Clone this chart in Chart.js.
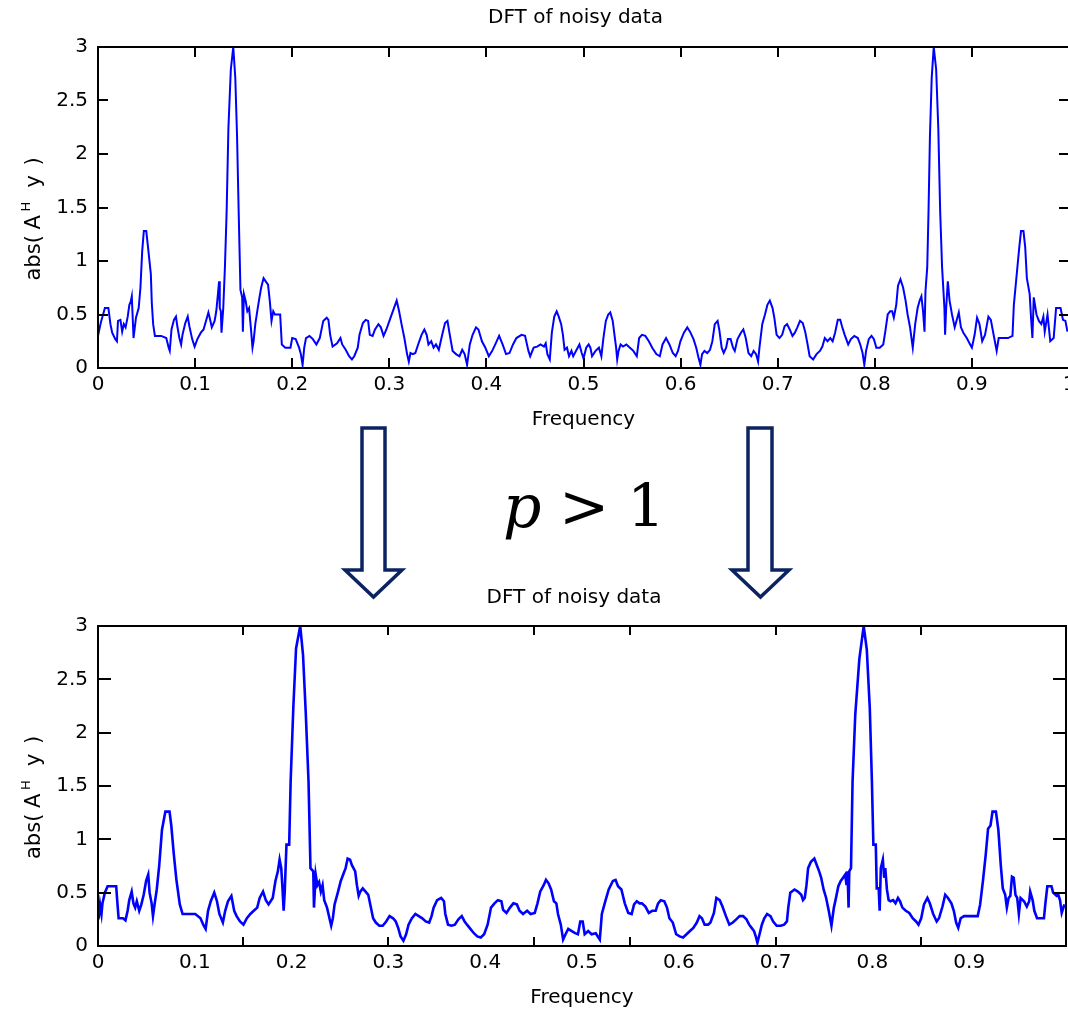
<!DOCTYPE html>
<html>
<head>
<meta charset="utf-8">
<script src="https://cdn.jsdelivr.net/npm/chart.js@4/dist/chart.umd.min.js"></script>
<style>
  html, body { margin: 0; padding: 0; background: #fff; overflow: hidden; }
  #wrap { position: relative; width: 1068px; height: 1011px; overflow: hidden; background: #fff; }
  #wrap canvas { position: absolute; left: 0; }
  #topChart { top: 0; width: 1085px; height: 445px; }
  #bottomChart { top: 580px; width: 1085px; height: 431px; }
  #overlay { position: absolute; left: 0; top: 0; }
</style>
</head>
<body>
<div id="wrap">
  <canvas id="topChart" width="1085" height="445"></canvas>
  <canvas id="bottomChart" width="1085" height="431"></canvas>
  <svg id="overlay" width="1068" height="1011" xmlns="http://www.w3.org/2000/svg">
    <g fill="#fff" stroke="#0b2461" stroke-width="3.5" stroke-linejoin="miter">
      <polygon points="362,428 385,428 385,570 402,570 373.5,597 345,570 362,570"/>
      <polygon points="748,428 772,428 772,570 789,570 760.5,597 732,570 748,570"/>
    </g>
    <text y="527" font-family="DejaVu Serif" font-size="60" fill="#000">
      <tspan x="503" font-style="italic">p</tspan><tspan x="559">&gt;</tspan><tspan x="627">1</tspan>
    </text>
  </svg>
</div>
<script>
// Spectrum of the original noisy signal: |A^H y| against normalised frequency
const topFreq = [
  0, 0.0028, 0.0071, 0.0107, 0.0128, 0.0146, 0.0178, 0.0195, 0.0206, 0.0231,
  0.0249, 0.0266, 0.0284, 0.0306, 0.0323, 0.0337, 0.0348, 0.0366, 0.0391, 0.0419,
  0.0437, 0.0455, 0.0472, 0.0497, 0.0515, 0.0544, 0.0554, 0.0568, 0.0586, 0.0650,
  0.0703, 0.0728, 0.0739, 0.0757, 0.0782, 0.0803, 0.0817, 0.0838, 0.0856, 0.0870,
  0.0899, 0.0924, 0.0941, 0.0970, 0.0995, 0.1023, 0.1059, 0.1087, 0.1112, 0.1137,
  0.1158, 0.1172, 0.1201, 0.1218, 0.1236, 0.1247, 0.1254, 0.1265, 0.1272, 0.1290,
  0.1307, 0.1325, 0.1343, 0.1368, 0.1393, 0.1414, 0.1432, 0.1449, 0.1467, 0.1485,
  0.1492, 0.1503, 0.1520, 0.1538, 0.1556, 0.1574, 0.1591, 0.1602, 0.1620, 0.1645,
  0.1663, 0.1680, 0.1705, 0.1734, 0.1751, 0.1769, 0.1787, 0.1805, 0.1822, 0.1876,
  0.1893, 0.1929, 0.1982, 0.2000, 0.2036, 0.2071, 0.2089, 0.2107, 0.2124, 0.2142,
  0.2178, 0.2213, 0.2249, 0.2284, 0.2320, 0.2355, 0.2373, 0.2391, 0.2416, 0.2462,
  0.2497, 0.2515, 0.2551, 0.2586, 0.2615, 0.2639, 0.2675, 0.2693, 0.2728, 0.2757,
  0.2782, 0.2799, 0.2828, 0.2853, 0.2888, 0.2913, 0.2941, 0.2970, 0.3005, 0.3048,
  0.3076, 0.3101, 0.3126, 0.3155, 0.3183, 0.3201, 0.3218, 0.3243, 0.3268, 0.3297,
  0.3332, 0.3361, 0.3385, 0.3403, 0.3432, 0.3456, 0.3481, 0.3510, 0.3545, 0.3574,
  0.3599, 0.3623, 0.3652, 0.3687, 0.3723, 0.3751, 0.3776, 0.3801, 0.3829, 0.3858,
  0.3893, 0.3918, 0.3954, 0.3989, 0.4025, 0.4060, 0.4096, 0.4131, 0.4167, 0.4202,
  0.4238, 0.4274, 0.4309, 0.4362, 0.4398, 0.4433, 0.4451, 0.4487, 0.4522, 0.4558,
  0.4593, 0.4611, 0.4628, 0.4653, 0.4674, 0.4699, 0.4724, 0.4745, 0.4770, 0.4788,
  0.4805, 0.4830, 0.4851, 0.4876, 0.4894, 0.4929, 0.4958, 0.4982, 0.5000, 0.5028,
  0.5053, 0.5071, 0.5088, 0.5124, 0.5159, 0.5184, 0.5205, 0.5230, 0.5255, 0.5276,
  0.5301, 0.5319, 0.5336, 0.5347, 0.5361, 0.5382, 0.5407, 0.5442, 0.5478, 0.5513,
  0.5549, 0.5573, 0.5602, 0.5637, 0.5673, 0.5708, 0.5750, 0.5786, 0.5814, 0.5850,
  0.5885, 0.5920, 0.5949, 0.5973, 0.5998, 0.6034, 0.6069, 0.6097, 0.6133, 0.6161,
  0.6186, 0.6204, 0.6221, 0.6246, 0.6274, 0.6303, 0.6327, 0.6352, 0.6381, 0.6398,
  0.6423, 0.6444, 0.6469, 0.6487, 0.6515, 0.6540, 0.6558, 0.6586, 0.6621, 0.6646,
  0.6671, 0.6699, 0.6727, 0.6752, 0.6777, 0.6798, 0.6812, 0.6841, 0.6869, 0.6894,
  0.6919, 0.6947, 0.6965, 0.6989, 0.7018, 0.7046, 0.7071, 0.7096, 0.7124, 0.7152,
  0.7177, 0.7202, 0.7230, 0.7258, 0.7283, 0.7308, 0.7329, 0.7365, 0.7400, 0.7435,
  0.7460, 0.7485, 0.7513, 0.7542, 0.7566, 0.7591, 0.7619, 0.7644, 0.7662, 0.7690,
  0.7726, 0.7754, 0.7789, 0.7825, 0.7850, 0.7874, 0.7892, 0.7910, 0.7938, 0.7966,
  0.7991, 0.8016, 0.8051, 0.8087, 0.8108, 0.8133, 0.8158, 0.8179, 0.8196, 0.8221,
  0.8239, 0.8264, 0.8292, 0.8317, 0.8338, 0.8363, 0.8391, 0.8416, 0.8441, 0.8462,
  0.8480, 0.8497, 0.8512, 0.8522, 0.8540, 0.8553, 0.8568, 0.8586, 0.8607, 0.8632,
  0.8654, 0.8673, 0.8693, 0.8717, 0.8724, 0.8735, 0.8752, 0.8770, 0.8795, 0.8823,
  0.8841, 0.8865, 0.8887, 0.8912, 0.8947, 0.8982, 0.9000, 0.9028, 0.9053, 0.9078,
  0.9106, 0.9135, 0.9170, 0.9195, 0.9230, 0.9255, 0.9276, 0.9319, 0.9372, 0.9418,
  0.9432, 0.9460, 0.9488, 0.9506, 0.9531, 0.9549, 0.9566, 0.9595, 0.9609, 0.9623,
  0.9637, 0.9665, 0.9690, 0.9715, 0.9736, 0.9750, 0.9779, 0.9807, 0.9842, 0.9867,
  0.9913, 0.9938, 0.9963, 0.9984
];
const topMag = [
  0.30, 0.42, 0.56, 0.56, 0.41, 0.33, 0.27, 0.25, 0.44, 0.45,
  0.34, 0.41, 0.38, 0.48, 0.59, 0.62, 0.67, 0.28, 0.47, 0.56,
  0.75, 1.09, 1.28, 1.28, 1.13, 0.88, 0.61, 0.41, 0.30, 0.30,
  0.28, 0.19, 0.16, 0.36, 0.45, 0.48, 0.39, 0.28, 0.22, 0.31,
  0.42, 0.48, 0.39, 0.27, 0.20, 0.27, 0.33, 0.36, 0.44, 0.52,
  0.44, 0.38, 0.44, 0.53, 0.70, 0.81, 0.56, 0.53, 0.33, 0.56,
  0.94, 1.47, 2.24, 2.79, 3.00, 2.71, 2.17, 1.45, 0.73, 0.66,
  0.34, 0.69, 0.63, 0.53, 0.56, 0.38, 0.19, 0.25, 0.41, 0.56,
  0.66, 0.75, 0.84, 0.80, 0.78, 0.63, 0.44, 0.53, 0.50, 0.50,
  0.22, 0.19, 0.19, 0.28, 0.27, 0.19, 0.13, 0.03, 0.19, 0.28,
  0.30, 0.27, 0.22, 0.28, 0.44, 0.47, 0.45, 0.31, 0.20, 0.23,
  0.28, 0.22, 0.17, 0.11, 0.08, 0.11, 0.19, 0.31, 0.42, 0.45,
  0.44, 0.31, 0.30, 0.36, 0.41, 0.38, 0.30, 0.36, 0.45, 0.56,
  0.63, 0.53, 0.41, 0.28, 0.13, 0.06, 0.14, 0.13, 0.14, 0.22,
  0.31, 0.36, 0.31, 0.22, 0.25, 0.19, 0.22, 0.17, 0.31, 0.42,
  0.44, 0.31, 0.16, 0.13, 0.11, 0.17, 0.13, 0.03, 0.22, 0.31,
  0.38, 0.36, 0.25, 0.19, 0.11, 0.16, 0.23, 0.30, 0.22, 0.13,
  0.14, 0.22, 0.28, 0.31, 0.30, 0.16, 0.11, 0.19, 0.20, 0.22,
  0.20, 0.23, 0.13, 0.08, 0.33, 0.48, 0.53, 0.48, 0.41, 0.31,
  0.17, 0.19, 0.11, 0.16, 0.11, 0.17, 0.22, 0.14, 0.09, 0.19,
  0.22, 0.19, 0.11, 0.16, 0.19, 0.11, 0.28, 0.44, 0.50, 0.52,
  0.44, 0.31, 0.19, 0.08, 0.16, 0.22, 0.20, 0.22, 0.19, 0.16,
  0.11, 0.28, 0.31, 0.30, 0.25, 0.19, 0.13, 0.11, 0.22, 0.28,
  0.22, 0.14, 0.11, 0.16, 0.25, 0.33, 0.38, 0.34, 0.27, 0.19,
  0.09, 0.03, 0.13, 0.16, 0.14, 0.17, 0.25, 0.41, 0.44, 0.36,
  0.19, 0.14, 0.19, 0.27, 0.27, 0.19, 0.16, 0.27, 0.33, 0.36,
  0.28, 0.14, 0.11, 0.16, 0.13, 0.06, 0.19, 0.41, 0.50, 0.59,
  0.63, 0.56, 0.47, 0.31, 0.28, 0.31, 0.39, 0.41, 0.36, 0.30,
  0.33, 0.38, 0.44, 0.42, 0.34, 0.22, 0.11, 0.08, 0.13, 0.16,
  0.20, 0.28, 0.25, 0.28, 0.25, 0.33, 0.45, 0.45, 0.39, 0.31,
  0.22, 0.27, 0.30, 0.28, 0.22, 0.14, 0.03, 0.16, 0.27, 0.30,
  0.27, 0.19, 0.19, 0.22, 0.34, 0.50, 0.53, 0.53, 0.47, 0.59,
  0.77, 0.83, 0.75, 0.63, 0.50, 0.38, 0.19, 0.41, 0.56, 0.63,
  0.67, 0.53, 0.34, 0.72, 0.94, 1.45, 2.17, 2.71, 3.00, 2.79,
  2.24, 1.47, 0.94, 0.56, 0.31, 0.56, 0.81, 0.63, 0.50, 0.38,
  0.44, 0.52, 0.38, 0.33, 0.28, 0.22, 0.19, 0.31, 0.47, 0.41,
  0.25, 0.31, 0.48, 0.45, 0.28, 0.16, 0.28, 0.28, 0.28, 0.30,
  0.59, 0.86, 1.13, 1.28, 1.28, 1.13, 0.84, 0.69, 0.47, 0.28,
  0.66, 0.50, 0.44, 0.41, 0.48, 0.34, 0.50, 0.25, 0.28, 0.56,
  0.56, 0.45, 0.44, 0.34
];

// Spectrum after the p > 1 frequency warping
const bottomFreq = [
  0, 0.0011, 0.0021, 0.0036, 0.0046, 0.0071, 0.0099, 0.0188, 0.0199, 0.0213,
  0.0259, 0.0284, 0.0306, 0.0323, 0.0348, 0.0366, 0.0384, 0.0401, 0.0426, 0.0448,
  0.0472, 0.0497, 0.0519, 0.0533, 0.0554, 0.0568, 0.0586, 0.0607, 0.0632, 0.0661,
  0.0696, 0.0739, 0.0757, 0.0782, 0.0810, 0.0845, 0.0874, 0.1005, 0.1059, 0.1087,
  0.1112, 0.1137, 0.1165, 0.1201, 0.1229, 0.1254, 0.1290, 0.1314, 0.1343, 0.1378,
  0.1407, 0.1432, 0.1467, 0.1503, 0.1538, 0.1574, 0.1609, 0.1645, 0.1670, 0.1705,
  0.1734, 0.1762, 0.1805, 0.1833, 0.1858, 0.1876, 0.1893, 0.1904, 0.1918, 0.1929,
  0.1947, 0.1975, 0.1990, 0.2018, 0.2046, 0.2089, 0.2118, 0.2146, 0.2175, 0.2195,
  0.2224, 0.2231, 0.2249, 0.2266, 0.2284, 0.2302, 0.2320, 0.2337, 0.2366, 0.2391,
  0.2409, 0.2426, 0.2444, 0.2480, 0.2508, 0.2533, 0.2558, 0.2579, 0.2604, 0.2622,
  0.2657, 0.2675, 0.2693, 0.2710, 0.2735, 0.2764, 0.2792, 0.2817, 0.2842, 0.2870,
  0.2906, 0.2941, 0.2977, 0.3012, 0.3048, 0.3076, 0.3101, 0.3126, 0.3155, 0.3183,
  0.3208, 0.3243, 0.3279, 0.3314, 0.3350, 0.3385, 0.3421, 0.3446, 0.3467, 0.3503,
  0.3545, 0.3574, 0.3588, 0.3616, 0.3652, 0.3687, 0.3723, 0.3758, 0.3787, 0.3812,
  0.3847, 0.3883, 0.3918, 0.3954, 0.3989, 0.4025, 0.4060, 0.4096, 0.4131, 0.4167,
  0.4185, 0.4220, 0.4256, 0.4291, 0.4327, 0.4355, 0.4391, 0.4433, 0.4469, 0.4512,
  0.4540, 0.4568, 0.4604, 0.4628, 0.4653, 0.4681, 0.4710, 0.4735, 0.4752, 0.4781,
  0.4805, 0.4830, 0.4858, 0.4894, 0.4929, 0.4958, 0.4982, 0.5007, 0.5028, 0.5064,
  0.5099, 0.5142, 0.5170, 0.5184, 0.5205, 0.5241, 0.5276, 0.5319, 0.5347, 0.5372,
  0.5407, 0.5442, 0.5478, 0.5513, 0.5538, 0.5566, 0.5595, 0.5619, 0.5655, 0.5690,
  0.5726, 0.5761, 0.5786, 0.5814, 0.5850, 0.5878, 0.5903, 0.5938, 0.5973, 0.6009,
  0.6044, 0.6080, 0.6115, 0.6150, 0.6186, 0.6214, 0.6239, 0.6267, 0.6303, 0.6327,
  0.6363, 0.6388, 0.6423, 0.6451, 0.6487, 0.6522, 0.6558, 0.6593, 0.6628, 0.6664,
  0.6699, 0.6727, 0.6752, 0.6777, 0.6798, 0.6812, 0.6834, 0.6858, 0.6883, 0.6912,
  0.6947, 0.6975, 0.7011, 0.7053, 0.7088, 0.7117, 0.7131, 0.7152, 0.7195, 0.7230,
  0.7265, 0.7283, 0.7301, 0.7319, 0.7336, 0.7365, 0.7400, 0.7425, 0.7450, 0.7471,
  0.7496, 0.7522, 0.7549, 0.7577, 0.7602, 0.7619, 0.7648, 0.7673, 0.7697, 0.7719,
  0.7733, 0.7743, 0.7754, 0.7761, 0.7779, 0.7795, 0.7823, 0.7865, 0.7910, 0.7942,
  0.7973, 0.7995, 0.8010, 0.8035, 0.8045, 0.8065, 0.8075, 0.8087, 0.8108, 0.8122,
  0.8133, 0.8150, 0.8168, 0.8186, 0.8214, 0.8239, 0.8264, 0.8285, 0.8310, 0.8345,
  0.8381, 0.8416, 0.8451, 0.8476, 0.8504, 0.8533, 0.8568, 0.8593, 0.8628, 0.8664,
  0.8688, 0.8724, 0.8752, 0.8781, 0.8816, 0.8841, 0.8865, 0.8887, 0.8912, 0.8947,
  0.9088, 0.9113, 0.9142, 0.9170, 0.9195, 0.9220, 0.9241, 0.9276, 0.9301, 0.9326,
  0.9347, 0.9372, 0.9389, 0.9407, 0.9425, 0.9442, 0.9460, 0.9478, 0.9496, 0.9513,
  0.9531, 0.9566, 0.9595, 0.9620, 0.9630, 0.9655, 0.9673, 0.9701, 0.9772, 0.9786,
  0.9807, 0.9850, 0.9867, 0.9903, 0.9920, 0.9938, 0.9956, 0.9984
];
const bottomMag = [
  0.33, 0.30, 0.39, 0.30, 0.40, 0.50, 0.56, 0.56, 0.42, 0.26,
  0.26, 0.24, 0.33, 0.43, 0.51, 0.40, 0.36, 0.42, 0.33, 0.39,
  0.48, 0.61, 0.67, 0.50, 0.40, 0.28, 0.40, 0.53, 0.75, 1.09,
  1.26, 1.26, 1.13, 0.87, 0.62, 0.39, 0.30, 0.30, 0.26, 0.20,
  0.16, 0.33, 0.42, 0.50, 0.42, 0.30, 0.22, 0.33, 0.42, 0.47,
  0.33, 0.28, 0.23, 0.20, 0.26, 0.30, 0.33, 0.36, 0.45, 0.51,
  0.43, 0.39, 0.45, 0.61, 0.70, 0.81, 0.73, 0.57, 0.33, 0.51,
  0.95, 0.95, 1.54, 2.24, 2.79, 3.00, 2.73, 2.19, 1.54, 0.73,
  0.70, 0.36, 0.67, 0.57, 0.60, 0.51, 0.57, 0.43, 0.36, 0.26,
  0.19, 0.26, 0.39, 0.51, 0.61, 0.67, 0.73, 0.82, 0.81, 0.76,
  0.70, 0.57, 0.47, 0.51, 0.54, 0.51, 0.48, 0.37, 0.26, 0.22,
  0.19, 0.19, 0.23, 0.28, 0.26, 0.23, 0.17, 0.09, 0.05, 0.11,
  0.20, 0.26, 0.30, 0.28, 0.26, 0.23, 0.22, 0.28, 0.36, 0.43,
  0.45, 0.42, 0.30, 0.20, 0.19, 0.20, 0.25, 0.28, 0.23, 0.20,
  0.16, 0.12, 0.09, 0.08, 0.11, 0.20, 0.36, 0.40, 0.43, 0.42,
  0.34, 0.31, 0.36, 0.40, 0.39, 0.33, 0.30, 0.33, 0.30, 0.31,
  0.40, 0.51, 0.57, 0.62, 0.59, 0.53, 0.42, 0.40, 0.30, 0.20,
  0.06, 0.11, 0.16, 0.14, 0.12, 0.11, 0.23, 0.23, 0.11, 0.14,
  0.11, 0.12, 0.08, 0.06, 0.30, 0.42, 0.53, 0.61, 0.62, 0.56,
  0.53, 0.40, 0.31, 0.30, 0.39, 0.42, 0.40, 0.40, 0.37, 0.31,
  0.33, 0.33, 0.40, 0.43, 0.42, 0.36, 0.26, 0.22, 0.11, 0.09,
  0.08, 0.11, 0.14, 0.17, 0.22, 0.28, 0.26, 0.20, 0.20, 0.22,
  0.31, 0.45, 0.43, 0.37, 0.28, 0.20, 0.22, 0.25, 0.28, 0.28,
  0.25, 0.20, 0.17, 0.14, 0.08, 0.03, 0.11, 0.20, 0.26, 0.30,
  0.28, 0.23, 0.19, 0.19, 0.20, 0.23, 0.36, 0.50, 0.53, 0.51,
  0.48, 0.43, 0.45, 0.57, 0.73, 0.79, 0.82, 0.76, 0.70, 0.64,
  0.53, 0.45, 0.33, 0.19, 0.36, 0.43, 0.56, 0.61, 0.64, 0.67,
  0.57, 0.70, 0.36, 0.70, 0.73, 1.54, 2.17, 2.69, 3.00, 2.78,
  2.23, 1.54, 0.95, 0.95, 0.54, 0.54, 0.33, 0.73, 0.81, 0.64,
  0.73, 0.53, 0.43, 0.42, 0.43, 0.40, 0.45, 0.42, 0.36, 0.33,
  0.31, 0.26, 0.23, 0.20, 0.26, 0.39, 0.45, 0.40, 0.30, 0.23,
  0.26, 0.37, 0.48, 0.45, 0.40, 0.33, 0.22, 0.17, 0.26, 0.28,
  0.28, 0.39, 0.61, 0.85, 1.10, 1.13, 1.26, 1.26, 1.09, 0.76,
  0.54, 0.48, 0.36, 0.45, 0.47, 0.65, 0.64, 0.48, 0.45, 0.30,
  0.45, 0.42, 0.37, 0.42, 0.51, 0.43, 0.33, 0.26, 0.26, 0.39,
  0.56, 0.56, 0.50, 0.47, 0.48, 0.43, 0.31, 0.39
];

// Axis tick labels and inner tick marks
const yTicks = [0, 0.5, 1, 1.5, 2, 2.5, 3];
const xTicksTop = [0, 0.1, 0.2, 0.3, 0.4, 0.5, 0.6, 0.7, 0.8, 0.9, 1];
const xTicksBottom = [0, 0.1, 0.2, 0.3, 0.4, 0.5, 0.6, 0.7, 0.8, 0.9];
const xMarksTop = [0.1, 0.2, 0.3, 0.4, 0.5, 0.6, 0.7, 0.8, 0.9];
const xMarksBottom = [0.15, 0.3, 0.45, 0.55, 0.7, 0.85];

const TITLE = 'DFT of noisy data';
const X_TITLE = 'Frequency';
const FONT = '"DejaVu Sans", "Liberation Sans", Arial, sans-serif';

const fmt = v => String(Math.round(v * 100) / 100);

// Title above the axes, the closed axes box with inward ticks, and the y label with its superscript
const axesBox = {
  id: 'axesBox',
  beforeDraw(chart, args, o) {
    const { ctx, chartArea: a } = chart;
    ctx.save();
    ctx.fillStyle = '#000';
    ctx.font = '20px ' + FONT;
    ctx.textAlign = 'center';
    ctx.textBaseline = 'middle';
    ctx.fillText(o.title, (a.left + a.right) / 2 + o.titleDx, o.titleY);
    ctx.restore();
  },
  afterDatasetsDraw(chart, args, o) {
    const { ctx, chartArea: a } = chart;
    const xs = chart.scales.x, ys = chart.scales.y;
    ctx.save();
    ctx.strokeStyle = '#000';
    ctx.lineWidth = 2;
    ctx.strokeRect(a.left, a.top, a.right - a.left, a.bottom - a.top);
    ctx.beginPath();
    for (const v of o.xMarks) {
      const px = Math.round(xs.getPixelForValue(v));
      ctx.moveTo(px, a.bottom); ctx.lineTo(px, a.bottom - o.xLen);
      ctx.moveTo(px, a.top); ctx.lineTo(px, a.top + o.xLen);
    }
    for (const v of o.yMarks) {
      const py = Math.round(ys.getPixelForValue(v));
      ctx.moveTo(a.left, py); ctx.lineTo(a.left + o.yLen, py);
      ctx.moveTo(a.right, py); ctx.lineTo(a.right - o.yLen, py);
    }
    ctx.stroke();

    // y-axis label: abs( A^H y ), written bottom to top
    ctx.fillStyle = '#000';
    ctx.textBaseline = 'alphabetic';
    ctx.textAlign = 'left';
    const total = 126;
    ctx.translate(o.labelX, (a.top + a.bottom) / 2 + o.labelShift);
    ctx.rotate(-Math.PI / 2);
    const x0 = -total / 2;
    ctx.font = '21px ' + FONT;
    ctx.fillText('abs(', x0, 0);
    ctx.fillText('A', x0 + 51, 0);
    ctx.fillText('y', x0 + 93, 0);
    ctx.fillText(')', x0 + 115, 0);
    ctx.font = '13px ' + FONT;
    ctx.fillText('H', x0 + 69, -10);
    ctx.restore();
  }
};

function makeChart(id, freq, mag, cfg) {
  const points = freq.map((f, i) => ({ x: f, y: mag[i] }));
  return new Chart(document.getElementById(id), {
    type: 'line',
    data: {
      datasets: [{
        data: points,
        borderColor: '#0000ff',
        borderWidth: cfg.lineW,
        pointRadius: 0,
        tension: 0,
        fill: false
      }]
    },
    options: {
      responsive: false,
      animation: false,
      devicePixelRatio: 1,
      layout: { autoPadding: false, padding: { left: 0, top: cfg.plotTop, right: cfg.padRight, bottom: 0 } },
      plugins: {
        legend: { display: false },
        tooltip: { enabled: false },
        title: { display: false },
        axesBox: {
          title: TITLE, titleY: 18, titleDx: -8,
          xMarks: cfg.xMarks, yMarks: yTicks, xLen: cfg.xLen, yLen: cfg.yLen,
          labelX: 40, labelShift: 10
        }
      },
      scales: {
        x: {
          type: 'linear', min: 0, max: 1,
          grid: { display: false, drawTicks: false },
          border: { display: false },
          afterBuildTicks: s => { s.ticks = cfg.xTicks.map(v => ({ value: v })); },
          afterFit: s => { s.height = cfg.xAxisH; },
          ticks: { autoSkip: false, maxRotation: 0, padding: 5, color: '#000',
                   font: { family: FONT, size: 20 }, callback: fmt },
          title: { display: true, text: X_TITLE, color: '#000',
                   font: { family: FONT, size: 20 }, padding: { top: 0, bottom: cfg.xTitlePad } }
        },
        y: {
          type: 'linear', min: 0, max: 3,
          grid: { display: false, drawTicks: false },
          border: { display: false },
          afterBuildTicks: s => { s.ticks = yTicks.map(v => ({ value: v })); },
          afterFit: s => { s.width = 98; },
          ticks: { padding: 10, color: '#000', font: { family: FONT, size: 20 }, callback: fmt }
        }
      }
    },
    plugins: [axesBox]
  });
}

makeChart('topChart', topFreq, topMag, {
  plotTop: 47, padRight: 16, xAxisH: 77, xTitlePad: 13, lineW: 2,
  xTicks: xTicksTop, xMarks: xMarksTop, xLen: 10, yLen: 10
});
makeChart('bottomChart', bottomFreq, bottomMag, {
  plotTop: 46, padRight: 19, xAxisH: 65, xTitlePad: 1, lineW: 2.6,
  xTicks: xTicksBottom, xMarks: xMarksBottom, xLen: 9, yLen: 13
});
</script>
</body>
</html>
